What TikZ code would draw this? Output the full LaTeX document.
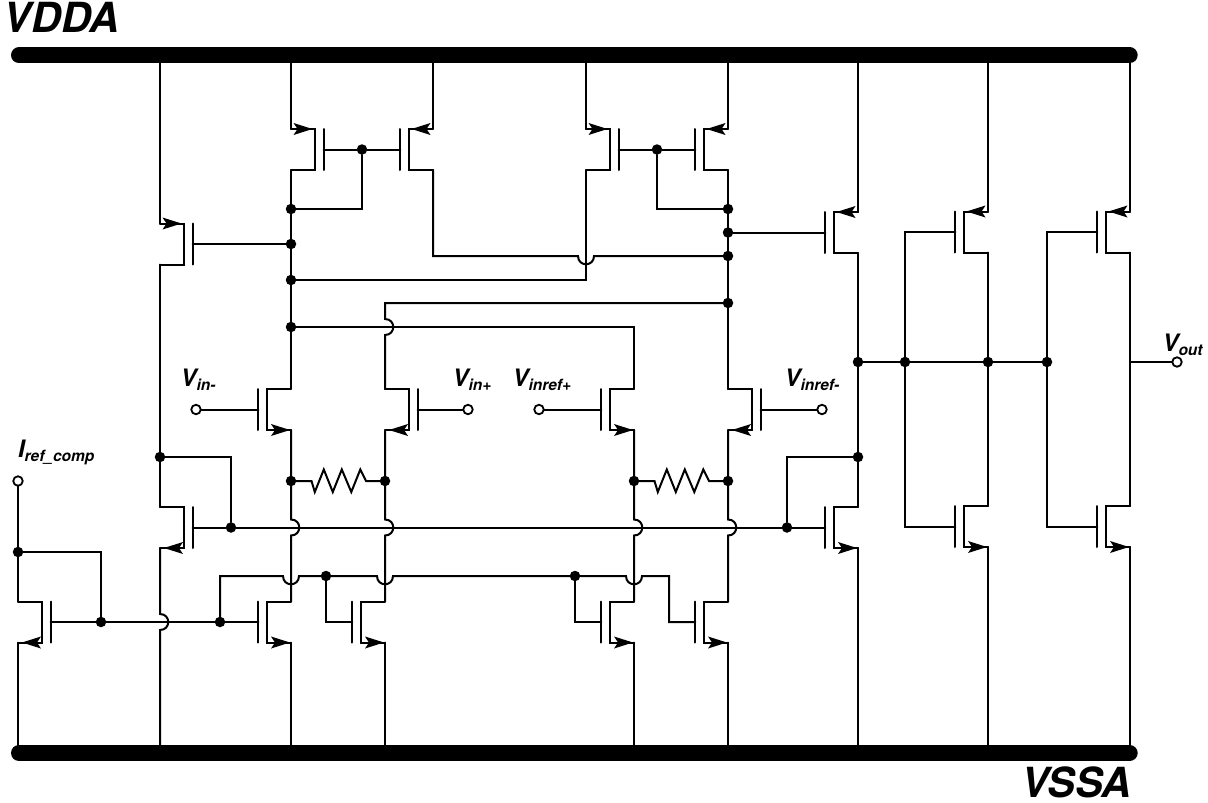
\documentclass[tikz,border=0pt]{standalone}
\usepackage{fontspec}
\setmainfont{TeX Gyre Heros}
\begin{document}
\tikzset{
  wire/.style={line width=2pt,line cap=round,line join=miter,draw=black},
  bus/.style={line width=16pt,line cap=round,draw=black},
  dot/.style={circle,fill=black,draw=none,minimum size=10.5pt,inner sep=0pt,outer sep=0pt},
  term/.style={circle,fill=white,draw=black,line width=1.8pt,minimum size=9.5pt,inner sep=0pt,outer sep=0pt},
  lab/.style={anchor=base west,inner sep=0pt,outer sep=0pt,font=\bfseries\itshape},
}
% name, rail x, dir, top y, type (0 = arrow at top towards channel, 1 = arrow at bottom towards rail)
\newcommand\fet[5]{%
  \pgfmathsetmacro\fcx{#2+#3*24}%
  \pgfmathsetmacro\fpx{#2+#3*32.7}%
  \pgfmathsetmacro\fbot{#4+41}%
  \pgfmathsetmacro\fmid{#4+20.5}%
  \coordinate (#1-t) at (#2,#4);
  \coordinate (#1-b) at (#2,\fbot);
  \coordinate (#1-g) at (\fpx,\fmid);
  \draw[wire] (#1-t) -- (\fcx,#4) -- (\fcx,\fbot) -- (#1-b);
  \draw[wire] (\fpx,#4) -- (\fpx,\fbot);
  \ifnum#5=0
    \pgfmathsetmacro\ftip{#2+#3*21.5}%
    \pgfmathsetmacro\fbase{#2+#3*2.5}%
    \pgfmathsetmacro\fnotch{#2+#3*6.5}%
    \fill (\ftip,#4) -- (\fbase,#4-6) -- (\fnotch,#4) -- (\fbase,#4+6) -- cycle;
  \else
    \pgfmathsetmacro\ftip{#2+#3*(#3>0?4:1)}%
    \pgfmathsetmacro\fbase{\ftip+#3*19}%
    \pgfmathsetmacro\fnotch{\ftip+#3*15}%
    \fill (\ftip,\fbot) -- (\fbase,\fbot-6) -- (\fnotch,\fbot) -- (\fbase,\fbot+6) -- cycle;
  \fi
}
\newcommand\VJ[2]{-- (#1,#2-8) .. controls (#1+11,#2-8) and (#1+11,#2+8) .. (#1,#2+8)}
\newcommand\HJ[2]{-- (#1-8,#2) .. controls (#1-8,#2+11) and (#1+8,#2+11) .. (#1+8,#2)}
\newcommand\zig[3]{% x start, x end, y  (as path continuation)
  -- (#1,#3) -- (#1+3.3,#3+11) -- (#1+12.3,#3-11.5) -- (#1+21.3,#3+11) -- (#1+30.3,#3-11.5) -- (#1+39.8,#3+11) -- (#1+48.8,#3-11.5) -- (#2,#3)}
\newcommand\sgl[2]{{\fontsize{24}{24}\selectfont #1}\raisebox{-4.6pt}{\fontsize{15.5}{16}\selectfont #2}}
\begin{tikzpicture}[x=1pt,y=-1pt]
\useasboundingbox (0,0) rectangle (1208,803);
% buses
\coordinate (vddl) at (19,55.3); \coordinate (vddr) at (1129.7,55.3);
\coordinate (vssl) at (19,753); \coordinate (vssr) at (1129.7,753);
\draw[bus] (vddl) -- (vddr);
\draw[bus] (vssl) -- (vssr);
% transistors
\fet{P1}{291}{1}{129}{0}
\fet{P2}{433}{-1}{129}{0}
\fet{P3}{586}{1}{129}{0}
\fet{P4}{728}{-1}{129}{0}
\fet{P5}{160}{1}{223.5}{0}
\fet{P6}{858}{-1}{212}{0}
\fet{P7}{988}{-1}{211.5}{0}
\fet{P8}{1130}{-1}{211.5}{0}
\fet{D1}{291}{-1}{389}{1}
\fet{D2}{385}{1}{389}{1}
\fet{D3}{634}{-1}{389}{1}
\fet{D4}{728}{1}{389}{1}
\fet{T1}{160}{1}{507}{1}
\fet{T2}{858}{-1}{507}{1}
\fet{T3}{988}{-1}{506}{1}
\fet{T4}{1130}{-1}{506}{1}
\fet{B0}{18}{1}{601.5}{1}
\fet{B1}{291}{-1}{601.5}{1}
\fet{B2}{385}{-1}{601.5}{1}
\fet{B3}{634}{-1}{601.5}{1}
\fet{B4}{728}{-1}{601.5}{1}
% junctions
\node[dot] (j1) at (362,149.5) {};
\node[dot] (j2) at (657,149.5) {};
\node[dot] (j3) at (291,209) {};
\node[dot] (j4) at (291,244) {};
\node[dot] (j5) at (291,280) {};
\node[dot] (j6) at (291,327) {};
\node[dot] (j7) at (728,209) {};
\node[dot] (j8) at (728,232.5) {};
\node[dot] (j9) at (728,256) {};
\node[dot] (j10) at (728,303) {};
\node[dot] (r1) at (291,481) {};
\node[dot] (r2) at (385,481) {};
\node[dot] (r3) at (634,481) {};
\node[dot] (r4) at (728,481) {};
\node[dot] (j11) at (160,457) {};
\node[dot] (j12) at (231,527.5) {};
\node[dot] (j13) at (787,527.5) {};
\node[dot] (j14) at (858,457) {};
\node[dot] (j15) at (858,362) {};
\node[dot] (j16) at (905,362) {};
\node[dot] (j17) at (988,362) {};
\node[dot] (j18) at (1047,362) {};
\node[dot] (j19) at (18,552) {};
\node[dot] (j20) at (101,622) {};
\node[dot] (j21) at (220,622) {};
\node[dot] (j22) at (326,576) {};
\node[dot] (j23) at (575,576) {};
\coordinate (c586) at (586,280);
\coordinate (c385) at (385,303);
\coordinate (c634) at (634,327);
\coordinate (c433) at (433,256);
% rails to supplies
\foreach \n/\x in {P1/291,P2/433,P3/586,P4/728,P5/160,P6/858,P7/988,P8/1130}{
  \draw[wire] (\x,55.3) -- (\n-t);
}
\foreach \n/\x in {B0/18,B1/291,B2/385,B3/634,B4/728,T2/858,T3/988,T4/1130}{
  \draw[wire] (\n-b) -- (\x,753);
}
\draw[wire] (T1-b) \VJ{160}{622} -- (160,753);
% current mirror top
\draw[wire] (P1-g) -- (j1) -- (P2-g);
\draw[wire] (P3-g) -- (j2) -- (P4-g);
\draw[wire] (j1) |- (j3);
\draw[wire] (j2) |- (j7);
\draw[wire] (P1-b) -- (D1-t);
\draw[wire] (P4-b) -- (D4-t);
\draw[wire] (P3-b) -- (c586) -- (j5);
\draw[wire] (P2-b) -- (c433) \HJ{586}{256} -- (j9);
\draw[wire] (P5-g) -- (j4);
\draw[wire] (j8) -- (P6-g);
\draw[wire] (j10) -- (c385) \VJ{385}{327} -- (D2-t);
\draw[wire] (j6) -- (c634) -- (D3-t);
% input pair
\node[term] (vinm) at (196,409.5) {};
\node[term] (vinp) at (468,409.5) {};
\node[term] (vrefp) at (539,409.5) {};
\node[term] (vrefm) at (822,409.5) {};
\draw[wire] (vinm) -- (D1-g);
\draw[wire] (vinp) -- (D2-g);
\draw[wire] (vrefp) -- (D3-g);
\draw[wire] (vrefm) -- (D4-g);
% degeneration resistors
\draw[wire] (r1) \zig{311.5}{366}{481} -- (r2);
\draw[wire] (r3) \zig{654.5}{709}{481} -- (r4);
% source to sink rails with jumps
\draw[wire] (D1-b) \VJ{291}{527.5} -- (B1-t);
\draw[wire] (D2-b) \VJ{385}{527.5} -- (B2-t);
\draw[wire] (D3-b) \VJ{634}{527.5} -- (B3-t);
\draw[wire] (D4-b) \VJ{728}{527.5} -- (B4-t);
% bias line
\draw[wire] (T1-g) -- (j12) -- (j13) -- (T2-g);
\draw[wire] (j11) -| (j12);
\draw[wire] (j13) |- (j14);
\draw[wire] (P5-b) -- (T1-t);
\draw[wire] (P6-b) -- (T2-t);
\draw[wire] (P7-b) -- (T3-t);
\draw[wire] (P8-b) -- (T4-t);
% y=576 line
\coordinate (c220) at (220,576);
\coordinate (c669) at (669,576);
\coordinate (c669b) at (669,622);
\coordinate (c326b) at (326,622);
\coordinate (c575b) at (575,622);
\draw[wire] (j21) -- (c220) \HJ{291}{576} -- (j22) \HJ{385}{576} -- (j23) \HJ{634}{576} -- (c669) -- (c669b) -- (B4-g);
\draw[wire] (j22) -- (c326b) -- (B2-g);
\draw[wire] (j23) -- (c575b) -- (B3-g);
% left mirror
\node[term] (iref) at (18,481) {};
\draw[wire] (iref) -- (j19) -- (B0-t);
\draw[wire] (j19) -| (j20);
\draw[wire] (B0-g) -- (j20) -- (j21) -- (B1-g);
% output stages
\node[term] (vout) at (1177,362) {};
\coordinate (c1130) at (1130,362);
\draw[wire] (j15) -- (j16) -- (j17) -- (j18);
\draw[wire] (c1130) -- (vout);
\draw[wire] (P7-g) -| (j16);
\draw[wire] (j16) |- (T3-g);
\draw[wire] (P8-g) -| (j18);
\draw[wire] (j18) |- (T4-g);
% labels
\node[lab] (lvdd) at (4,32) {\fontsize{41.5}{42}\selectfont VDDA};
\node[lab] (lvss) at (1021,797.5) {\fontsize{41.5}{42}\selectfont VSSA};
\node[lab] (l1) at (180.5,386) {\sgl{V}{in-}};
\node[lab] (l2) at (452.5,386) {\sgl{V}{in+}};
\node[lab] (l3) at (512.5,386) {\sgl{V}{inref+}};
\node[lab] (l4) at (784.5,386) {\sgl{V}{inref-}};
\node[lab] (l5) at (1162.5,351) {\sgl{V}{out}};
\node[lab] (l6) at (18,457) {\sgl{I}{ref\_comp}};
\end{tikzpicture}
\end{document}
